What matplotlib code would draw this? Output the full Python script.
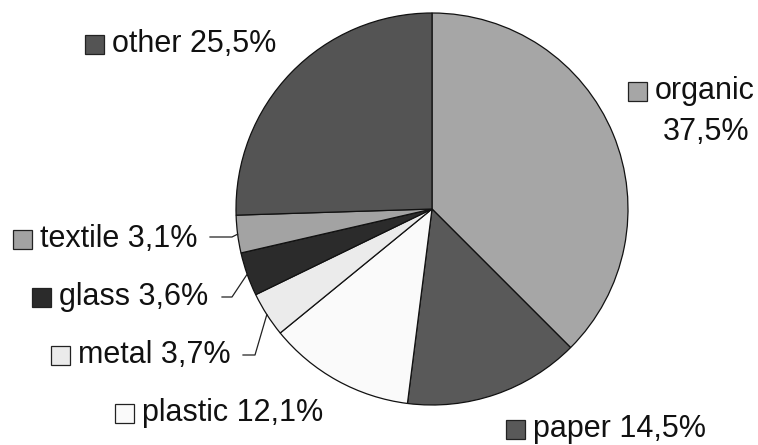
import numpy as np
import matplotlib
matplotlib.use("Agg")
import matplotlib.pyplot as plt
from matplotlib.patches import Rectangle

plt.rcParams['font.family'] = ['Liberation Sans', 'DejaVu Sans']

# data
categories = ['organic', 'paper', 'plastic', 'metal', 'glass', 'textile', 'other']
shares = [37.5, 14.5, 12.1, 3.7, 3.6, 3.1, 25.5]
colors = ['#a6a6a6', '#595959', '#fafafa', '#ebebeb', '#2b2b2b', '#a3a3a3', '#545454']

W, H = 758, 445
fig = plt.figure(figsize=(W / 100, H / 100), dpi=100)
ax = fig.add_axes([0, 0, 1, 1])

def fy(y):
    # image pixel row -> data y
    return H - y

cx, cy, r = 432, fy(209), 196
wedges, _ = ax.pie(shares, colors=colors, startangle=90, counterclock=False,
                   center=(cx, cy), radius=r,
                   wedgeprops=dict(edgecolor='#111111', linewidth=0.9))

ax.set_xlim(0, W)
ax.set_ylim(0, H)
ax.set_aspect('equal', adjustable='box')
ax.set_axis_off()

fs = 22
def pct(v):
    return f"{v:.1f}".replace('.', ',') + '%'

# label layout: (square left x, center y in image pixels)
label_pos = {
    'organic': (628, 91),
    'paper': (506, 429),
    'plastic': (115, 413),
    'metal': (51, 355),
    'glass': (32, 297),
    'textile': (13, 239),
    'other': (85, 44),
}
# leader lines: elbow point and end point (image pixels)
leaders = {
    'textile': ((232, 237), (210, 237)),
    'glass': ((232, 297), (222, 297)),
    'metal': ((255, 355), (243, 355)),
}

sq = 19
for name, val, col, w in zip(categories, shares, colors, wedges):
    x0, yc = label_pos[name]
    ax.add_patch(Rectangle((x0, fy(yc) - sq / 2), sq, sq, facecolor=col,
                           edgecolor='#222222', linewidth=0.9))
    if name == 'organic':
        ax.text(x0 + sq + 8, fy(yc), name, fontsize=fs, va='center', ha='left',
                color='#111111')
        ax.text(706, fy(132), pct(val), fontsize=fs, va='center', ha='center',
                color='#111111')
    else:
        ax.text(x0 + sq + 8, fy(yc), f"{name} {pct(val)}", fontsize=fs,
                va='center', ha='left', color='#111111')
    if name in leaders:
        mid = np.deg2rad((w.theta1 + w.theta2) / 2)
        ex, ey = cx + r * np.cos(mid), cy + r * np.sin(mid)
        (bx, by), (tx, ty) = leaders[name]
        ax.plot([ex, bx, tx], [ey, fy(by), fy(ty)], color='#222222', lw=0.9)

fig.savefig('out.png', dpi=100)
